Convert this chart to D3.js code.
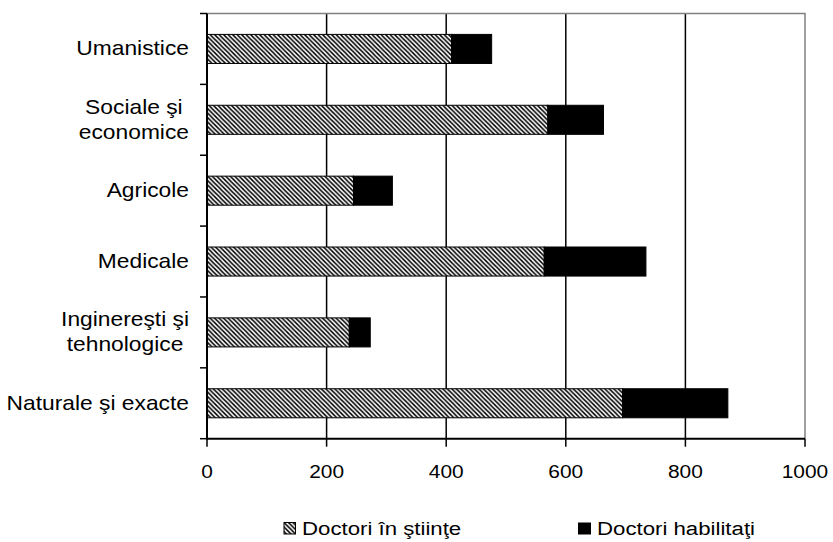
<html>
<head>
<meta charset="utf-8">
<style>
  body { margin: 0; background: white; }
  text { font-family: "Liberation Sans", Arial, sans-serif; fill: black; }
</style>
</head>
<body>
<svg id="svg" width="833" height="542"></svg>
<script src="https://cdn.jsdelivr.net/npm/d3@7"></script>
<script>

// data
var categories = ["Umanistice", "Sociale şi economice", "Agricole", "Medicale", "Inginereşti şi tehnologice", "Naturale şi exacte"];
var labelLines = [["Umanistice"], ["Sociale şi", "economice"], ["Agricole"], ["Medicale"], ["Inginereşti şi", "tehnologice"], ["Naturale şi exacte"]];
var doctoriStiinte = [409, 570, 245, 564, 238, 695];
var doctoriHabilitati = [67, 93, 65, 170, 35, 176];
var seriesNames = ["Doctori în ştiinţe", "Doctori habilitaţi"];
var xTicks = [0, 200, 400, 600, 800, 1000];

var rows = categories.map((c, i) => ({cat: c, s: doctoriStiinte[i], h: doctoriHabilitati[i]}));
var stacked = d3.stack().keys(["s", "h"])(rows);

var svg = d3.select("#svg");

var x = d3.scaleLinear().domain([0, 1000]).range([207, 805]);
var y = d3.scaleBand().domain(categories).range([13.5, 438.7])
  .paddingInner(0.59).paddingOuter(0.295);

// hatch pattern
var defs = svg.append("defs");
defs.append("pattern").attr("id", "hatch")
  .attr("patternUnits", "userSpaceOnUse").attr("width", 4.5).attr("height", 4.5)
  .call(p => p.append("rect").attr("width", 4.5).attr("height", 4.5).attr("fill", "white"))
  .call(p => p.append("path")
    .attr("d", "M-1,-1 L5.5,5.5 M-1,3.5 L1,5.5 M3.5,-1 L5.5,1")
    .attr("stroke", "black").attr("stroke-width", 1.5));

function txt(g, str, tx, ty, anchor, fs, sx) {
  return g.append("text").text(str)
    .attr("transform", "translate(" + tx + "," + ty + ") scale(" + sx + ",1)")
    .attr("text-anchor", anchor || "start")
    .attr("font-size", fs);
}

// gridlines
svg.append("g").selectAll("line").data(xTicks.slice(1, -1)).join("line")
  .attr("x1", d => x(d)).attr("x2", d => x(d))
  .attr("y1", 13.5).attr("y2", 438.7)
  .attr("stroke", "black").attr("stroke-width", 1.5);

// gray top and right border
svg.append("path")
  .attr("d", "M207,13.5 H805 V438.7")
  .attr("fill", "none").attr("stroke", "#808080").attr("stroke-width", 1.5);

// bars
svg.append("g").selectAll("g").data(stacked).join("g")
  .attr("fill", (d, i) => i == 0 ? "url(#hatch)" : "black")
  .selectAll("rect").data(d => d).join("rect")
    .attr("x", d => x(d[0]))
    .attr("width", d => x(d[1]) - x(d[0]))
    .attr("y", d => y(d.data.cat))
    .attr("height", y.bandwidth())
    .attr("stroke", "black").attr("stroke-width", 1);

// x axis
var xa = svg.append("g");
xa.append("line").attr("x1", 207).attr("x2", 805).attr("y1", 438.7).attr("y2", 438.7)
  .attr("stroke", "black").attr("stroke-width", 2);
xa.selectAll("line.tk").data(xTicks).join("line").classed("tk", true)
  .attr("x1", d => x(d)).attr("x2", d => x(d)).attr("y1", 438.7).attr("y2", 446.7)
  .attr("stroke", "black").attr("stroke-width", 1.5);
xTicks.forEach(t => txt(xa, d3.format("d")(t), x(t), 478, "middle", 19, 1.1));

// y axis
var ya = svg.append("g");
ya.append("line").attr("x1", 207).attr("x2", 207).attr("y1", 13.5).attr("y2", 439.7)
  .attr("stroke", "black").attr("stroke-width", 2);
ya.selectAll("line.tk").data(d3.range(categories.length + 1)).join("line").classed("tk", true)
  .attr("x1", 200).attr("x2", 207)
  .attr("y1", i => y.range()[0] + i * y.step()).attr("y2", i => y.range()[0] + i * y.step())
  .attr("stroke", "black").attr("stroke-width", 1.5);

categories.forEach((c, i) => {
  var lines = labelLines[i];
  var cy = y(c) + y.bandwidth() / 2;
  var g = ya.append("g");
  var ts = lines.map((l, k) => txt(g, l, 0, cy + 6.5 - (lines.length - 1) * 12.5 + k * 25, "middle", 20, 1.14));
  var w = d3.max(ts, t => t.node().getComputedTextLength()) * 1.14;
  g.attr("transform", "translate(" + (189 - w / 2) + ",0)");
});

// legend
var lg = svg.append("g");
lg.append("rect").attr("x", 284).attr("y", 522.5).attr("width", 11.5).attr("height", 11.5)
  .attr("fill", "url(#hatch)").attr("stroke", "black").attr("stroke-width", 1);
txt(lg, seriesNames[0], 302, 535, "start", 19, 1.17);
lg.append("rect").attr("x", 578).attr("y", 522.5).attr("width", 13).attr("height", 12)
  .attr("fill", "black");
txt(lg, seriesNames[1], 597, 535, "start", 19, 1.17);

</script>
</body>
</html>
